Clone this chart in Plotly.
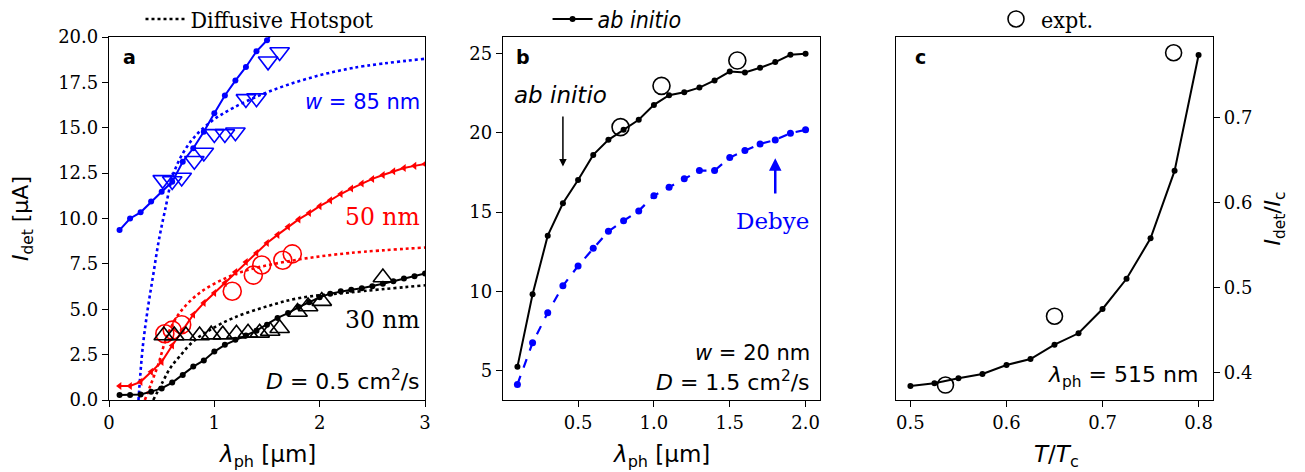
import plotly.graph_objects as go

# ---------------- Panel a data ----------------
a_x = [0.1, 0.2, 0.3, 0.4, 0.5, 0.6, 0.7, 0.8, 0.9, 1.0, 1.1, 1.2, 1.3, 1.4, 1.5,
       1.6, 1.7, 1.8, 1.9, 2.0, 2.1, 2.2, 2.3, 2.4, 2.5, 2.6, 2.7, 2.8, 2.9, 3.0]
a_black_abinitio = [0.28, 0.28, 0.3, 0.46, 0.64, 0.96, 1.38, 1.84, 2.18, 2.67, 3.04, 3.32, 3.56, 3.82, 4.15,
                    4.52, 4.79, 5.12, 5.38, 5.66, 5.86, 5.99, 6.08, 6.16, 6.27, 6.4, 6.54, 6.69, 6.82, 6.97]
a_red_abinitio = [0.77, 0.77, 1.0, 1.55, 2.1, 3.0, 3.85, 4.7, 5.35, 5.9, 6.45, 7.05, 7.6, 8.1, 8.65,
                  9.1, 9.55, 9.95, 10.3, 10.68, 11.0, 11.35, 11.65, 11.93, 12.18, 12.4, 12.6, 12.78, 12.9, 13.0]
a_blue_x = [0.1, 0.2, 0.3, 0.4, 0.5, 0.6, 0.7, 0.8, 0.9, 1.0, 1.1, 1.2, 1.3, 1.4, 1.5, 1.6]
a_blue_abinitio = [9.36, 10.0, 10.34, 10.93, 11.47, 12.02, 13.13, 13.87, 14.78, 15.8, 16.78, 17.6, 18.35, 19.21, 19.82, 20.6]

# Diffusive hotspot curves
hs_blue_x = [0.28, 0.32, 0.37, 0.42, 0.47, 0.53, 0.62, 0.77, 0.96, 1.18, 1.5, 1.88, 2.32, 3.0]
hs_blue_y = [0.0, 2.9, 5.1, 6.9, 8.7, 10.4, 12.6, 14.2, 15.3, 16.1, 16.95, 17.7, 18.3, 18.8]
hs_red_x = [0.34, 0.4, 0.47, 0.55, 0.67, 0.86, 1.12, 1.34, 1.81, 2.29, 3.0]
hs_red_y = [0.0, 0.9, 2.0, 3.5, 4.8, 5.9, 6.75, 7.2, 7.75, 8.1, 8.4]
hs_black_x = [0.42, 0.51, 0.58, 0.67, 0.8, 0.96, 1.18, 1.5, 1.81, 2.29, 3.0]
hs_black_y = [0.0, 1.0, 1.75, 2.4, 3.23, 3.87, 4.52, 5.16, 5.62, 5.93, 6.32]

# Experimental points
ex_blue_x = [0.51, 0.6, 0.69, 0.81, 0.9, 1.0, 1.1, 1.2, 1.3, 1.4, 1.51, 1.62]
ex_blue_y = [12.13, 12.07, 12.26, 13.18, 13.64, 14.66, 14.66, 14.75, 16.59, 16.63, 18.66, 19.17]
ex_red_x = [0.53, 0.6, 0.69, 1.17, 1.37, 1.45, 1.65, 1.74]
ex_red_y = [3.65, 3.85, 4.15, 5.99, 6.88, 7.44, 7.7, 8.05]
ex_black_x = [0.52, 0.62, 0.73, 0.86, 0.97, 1.08, 1.21, 1.32, 1.43, 1.53, 1.62, 1.79, 1.89, 2.02, 2.6]
ex_black_y = [3.55, 3.55, 3.55, 3.55, 3.6, 3.6, 3.65, 3.7, 3.7, 3.8, 3.95, 4.85, 5.15, 5.45, 6.75]

# ---------------- Panel b data ----------------
b_x = [0.1, 0.2, 0.3, 0.4, 0.5, 0.6, 0.7, 0.8, 0.9, 1.0,
       1.1, 1.2, 1.3, 1.4, 1.5, 1.6, 1.7, 1.8, 1.9, 2.0]
b_abinitio = [5.25, 9.82, 13.52, 15.56, 17.03, 18.61, 19.56, 20.19, 20.82, 21.76,
              22.37, 22.56, 22.85, 23.3, 23.86, 23.8, 24.1, 24.46, 24.92, 24.98]
b_debye = [4.14, 6.77, 8.66, 10.36, 11.61, 12.72, 13.79, 14.46, 15.08, 16.04,
           16.57, 17.1, 17.62, 17.62, 18.44, 18.88, 19.3, 19.55, 19.98, 20.19]
b_expt_x = [0.78, 1.05, 1.55]
b_expt_y = [20.36, 22.96, 24.56]

# ---------------- Panel c data ----------------
c_x = [0.5, 0.525, 0.55, 0.575, 0.6, 0.625, 0.65, 0.675, 0.7, 0.725, 0.75, 0.775, 0.8]
c_abinitio = [0.384, 0.387, 0.393, 0.398, 0.4086, 0.4156, 0.4325, 0.4459, 0.4745, 0.51, 0.5576, 0.637, 0.7733]
c_expt_x = [0.5365, 0.65, 0.774]
c_expt_y = [0.385, 0.466, 0.776]

# Tick labels
a_xticks = [0, 1, 2, 3]
a_yticks = [0, 2.5, 5, 7.5, 10, 12.5, 15, 17.5, 20]
a_yticklabels = ["0.0", "2.5", "5.0", "7.5", "10.0", "12.5", "15.0", "17.5", "20.0"]
b_xticks = [0.5, 1.0, 1.5, 2.0]
b_xticklabels = ["0.5", "1.0", "1.5", "2.0"]
b_yticks = [5, 10, 15, 20, 25]
c_xticks = [0.5, 0.6, 0.7, 0.8]
c_yticks = [0.4, 0.5, 0.6, 0.7]

BLUE = "#0000ff"
RED = "#ff0000"
BLACK = "#000000"

fig = go.Figure()

# ---- panel a traces ----
fig.add_trace(go.Scatter(x=hs_blue_x, y=hs_blue_y, mode="lines", line=dict(color=BLUE, width=2.6, dash="dot", shape="spline"),
                         showlegend=False, xaxis="x", yaxis="y"))
fig.add_trace(go.Scatter(x=hs_red_x, y=hs_red_y, mode="lines", line=dict(color=RED, width=2.6, dash="dot", shape="spline"),
                         showlegend=False, xaxis="x", yaxis="y"))
fig.add_trace(go.Scatter(x=hs_black_x, y=hs_black_y, mode="lines", line=dict(color=BLACK, width=2.6, dash="dot", shape="spline"),
                         name="Diffusive Hotspot", showlegend=True, legend="legend", xaxis="x", yaxis="y"))

fig.add_trace(go.Scatter(x=a_blue_x, y=a_blue_abinitio, mode="lines+markers", line=dict(color=BLUE, width=2),
                         marker=dict(size=6, color=BLUE), showlegend=False, xaxis="x", yaxis="y"))
fig.add_trace(go.Scatter(x=a_x, y=a_red_abinitio, mode="lines+markers", line=dict(color=RED, width=2),
                         marker=dict(size=7, color=RED, symbol="triangle-left"), showlegend=False, xaxis="x", yaxis="y"))
fig.add_trace(go.Scatter(x=a_x, y=a_black_abinitio, mode="lines+markers", line=dict(color=BLACK, width=2),
                         marker=dict(size=6, color=BLACK), showlegend=False, xaxis="x", yaxis="y"))

fig.add_trace(go.Scatter(x=ex_blue_x, y=ex_blue_y, mode="markers",
                         marker=dict(size=17, symbol="triangle-down-open", color=BLUE, line=dict(width=1.6, color=BLUE)),
                         showlegend=False, xaxis="x", yaxis="y"))
fig.add_trace(go.Scatter(x=ex_red_x, y=ex_red_y, mode="markers",
                         marker=dict(size=18, symbol="circle-open", color=RED, line=dict(width=1.6, color=RED)),
                         showlegend=False, xaxis="x", yaxis="y"))
fig.add_trace(go.Scatter(x=ex_black_x, y=ex_black_y, mode="markers",
                         marker=dict(size=17, symbol="triangle-up-open", color=BLACK, line=dict(width=1.6, color=BLACK)),
                         showlegend=False, xaxis="x", yaxis="y"))

# ---- panel b traces ----
fig.add_trace(go.Scatter(x=b_x, y=b_debye, mode="lines+markers", line=dict(color=BLUE, width=2.2, dash="dash"),
                         marker=dict(size=7, color=BLUE), showlegend=False, xaxis="x2", yaxis="y2"))
fig.add_trace(go.Scatter(x=b_x, y=b_abinitio, mode="lines+markers", line=dict(color=BLACK, width=2),
                         marker=dict(size=6, color=BLACK), name="<i>ab initio</i>", showlegend=True, legend="legend2",
                         xaxis="x2", yaxis="y2"))
fig.add_trace(go.Scatter(x=b_expt_x, y=b_expt_y, mode="markers",
                         marker=dict(size=17, symbol="circle-open", color=BLACK, line=dict(width=1.6, color=BLACK)),
                         showlegend=False, xaxis="x2", yaxis="y2"))

# ---- panel c traces ----
fig.add_trace(go.Scatter(x=c_x, y=c_abinitio, mode="lines+markers", line=dict(color=BLACK, width=2),
                         marker=dict(size=6, color=BLACK), showlegend=False, xaxis="x3", yaxis="y3"))
fig.add_trace(go.Scatter(x=c_expt_x, y=c_expt_y, mode="markers",
                         marker=dict(size=16, symbol="circle-open", color=BLACK, line=dict(width=1.6, color=BLACK)),
                         name="expt.", showlegend=True, legend="legend3", xaxis="x3", yaxis="y3"))

TICKFONT = dict(family="DejaVu Serif", size=18, color="black")
XTITLEFONT = dict(family="DejaVu Sans", size=23, color="black")
YTITLEFONT = dict(family="DejaVu Sans", size=22, color="black")
axis_common = dict(showline=True, linecolor="black", linewidth=1.3, mirror=True, ticks="outside",
                   ticklen=6, tickwidth=1.3, tickcolor="black", showgrid=False, zeroline=False,
                   tickfont=TICKFONT, automargin=True)

# The page body has an 8px margin, so the figure is offset by 8px.
YD = [0.15517, 0.9375]
fig.update_layout(
    width=1289, height=464,
    margin=dict(l=0, r=0, t=0, b=0, autoexpand=False),
    paper_bgcolor="white", plot_bgcolor="white",
    xaxis=dict(domain=[0.07836, 0.32351], range=[0, 3], tickvals=a_xticks, anchor="y", **axis_common),
    yaxis=dict(domain=YD, range=[0, 20], tickvals=a_yticks, ticktext=a_yticklabels, anchor="x",
               title=dict(text="<i>I</i><sub>det</sub> [μA]", font=YTITLEFONT, standoff=28), **axis_common),
    xaxis2=dict(domain=[0.38402, 0.62994], range=[0.005, 2.095], tickvals=b_xticks, ticktext=b_xticklabels, anchor="y2",
                **axis_common),
    yaxis2=dict(domain=YD, range=[3.16, 26.04], tickvals=b_yticks, anchor="x2", **axis_common),
    xaxis3=dict(domain=[0.68891, 0.93483], range=[0.485, 0.815], tickvals=c_xticks, anchor="y3", **axis_common),
    yaxis3=dict(domain=YD, range=[0.3674, 0.7945], tickvals=c_yticks, anchor="x3", side="right",
                title=dict(text="<i>I</i><sub>det</sub>/<i>I</i><sub>c</sub>", font=YTITLEFONT, standoff=13), **axis_common),
    legend=dict(x=0.1955, y=0.9763, xanchor="center", yanchor="middle", bgcolor="rgba(0,0,0,0)",
                font=dict(family="DejaVu Serif Condensed", size=23, color="black"), itemwidth=40),
    legend2=dict(x=0.4725, y=0.9763, xanchor="center", yanchor="middle", bgcolor="rgba(0,0,0,0)",
                 font=dict(family="DejaVu Sans Condensed", size=23, color="black"), itemwidth=40),
    legend3=dict(x=0.8045, y=0.9763, xanchor="center", yanchor="middle", bgcolor="rgba(0,0,0,0)",
                 font=dict(family="DejaVu Serif Condensed", size=23, color="black"), itemwidth=40),
)

SANS = "DejaVu Sans"
SERIF = "DejaVu Serif"
XT_Y = 0.0345
annotations = [
    # x-axis titles
    dict(text="<i>λ</i><sub>ph</sub> [μm]", xref="x domain", yref="paper", x=0.5, y=XT_Y,
         xanchor="center", yanchor="middle", showarrow=False, font=XTITLEFONT),
    dict(text="<i>λ</i><sub>ph</sub> [μm]", xref="x2 domain", yref="paper", x=0.5, y=XT_Y,
         xanchor="center", yanchor="middle", showarrow=False, font=XTITLEFONT),
    dict(text="<i>T</i>/<i>T</i><sub>c</sub>", xref="x3 domain", yref="paper", x=0.506, y=XT_Y,
         xanchor="center", yanchor="middle", showarrow=False, font=XTITLEFONT),
    # panel letters
    dict(text="<b>a</b>", xref="x domain", yref="y domain", x=0.066, y=0.945, xanchor="center", yanchor="middle",
         showarrow=False, font=dict(family=SANS, size=19, color="black")),
    dict(text="<b>b</b>", xref="x2 domain", yref="y2 domain", x=0.063, y=0.945, xanchor="center", yanchor="middle",
         showarrow=False, font=dict(family=SANS, size=19, color="black")),
    dict(text="<b>c</b>", xref="x3 domain", yref="y3 domain", x=0.076, y=0.945, xanchor="center", yanchor="middle",
         showarrow=False, font=dict(family=SANS, size=19, color="black")),
    dict(text="<i>w</i> = 85 nm", xref="x", yref="y", x=2.97, y=16.4, xanchor="right", showarrow=False,
         font=dict(family=SANS, size=21, color=BLUE)),
    dict(text="50 nm", xref="x", yref="y", x=2.97, y=10.07, xanchor="right", showarrow=False,
         font=dict(family=SERIF, size=23.5, color=RED)),
    dict(text="30 nm", xref="x", yref="y", x=2.97, y=4.42, xanchor="right", showarrow=False,
         font=dict(family=SERIF, size=23.5, color=BLACK)),
    dict(text="<i>D</i> = 0.5 cm<sup>2</sup>/s", xref="x", yref="y", x=2.97, y=1.1, xanchor="right", showarrow=False,
         font=dict(family=SANS, size=22, color=BLACK)),
    dict(text="<i>ab initio</i>", xref="x2", yref="y2", x=0.383, y=22.39, showarrow=False,
         font=dict(family=SANS, size=23, color=BLACK)),
    dict(text="Debye", xref="x2", yref="y2", x=1.784, y=14.44, showarrow=False,
         font=dict(family=SERIF, size=23, color=BLUE)),
    dict(text="<i>w</i> = 20 nm", xref="x2", yref="y2", x=2.043, y=6.12, xanchor="right", showarrow=False,
         font=dict(family=SANS, size=21, color=BLACK)),
    dict(text="<i>D</i> = 1.5 cm<sup>2</sup>/s", xref="x2", yref="y2", x=2.043, y=4.35, xanchor="right", showarrow=False,
         font=dict(family=SANS, size=22, color=BLACK)),
    dict(text="<i>λ</i><sub>ph</sub> = 515 nm", xref="x3", yref="y3", x=0.8017, y=0.3956, xanchor="right", showarrow=False,
         font=dict(family=SANS, size=22, color=BLACK)),
    # arrows
    dict(text="", xref="x2", yref="y2", axref="x2", ayref="y2", x=0.4, y=17.87, ax=0.4, ay=21.13,
         showarrow=True, arrowhead=2, arrowsize=1, arrowwidth=1.5, arrowcolor=BLACK),
    dict(text="", xref="x2", yref="y2", axref="x2", ayref="y2", x=1.8, y=18.4, ax=1.8, ay=16.08,
         showarrow=True, arrowhead=2, arrowsize=1, arrowwidth=2.5, arrowcolor=BLUE),
]
fig.update_layout(annotations=annotations)

fig.write_html("out.html")
